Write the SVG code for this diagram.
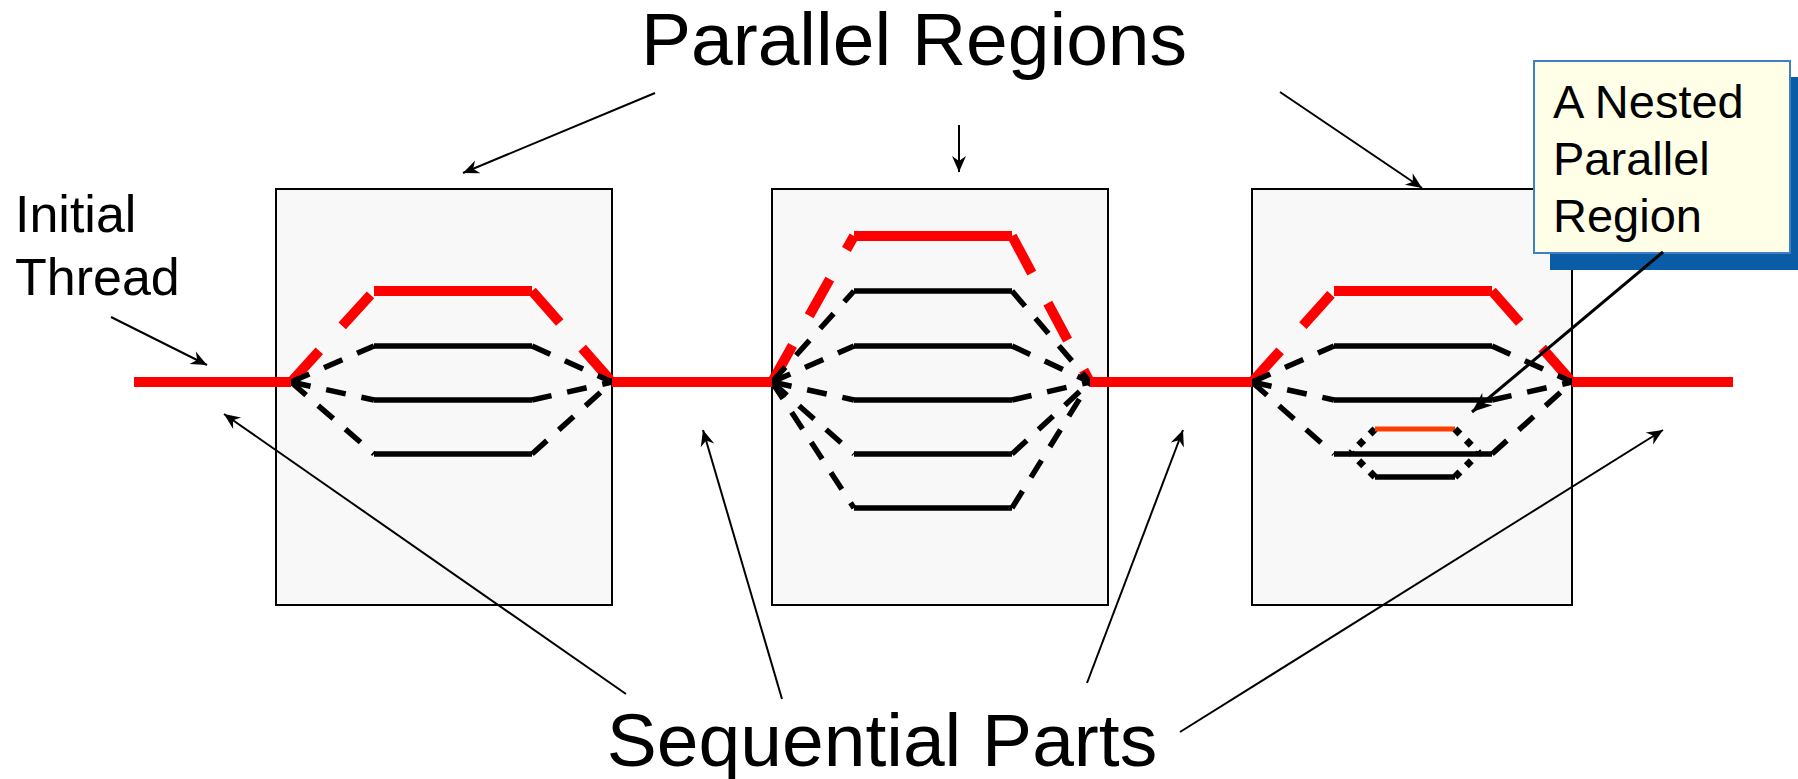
<svg xmlns="http://www.w3.org/2000/svg" width="1798" height="779" viewBox="0 0 1798 779">
<style>
.box{fill:#F8F8F8;stroke:#000;stroke-width:2}
.rs{stroke:#F00;stroke-width:10;fill:none}
.rd{stroke:#F00;stroke-width:10;stroke-dasharray:42 34;fill:none}
.bs{stroke:#000;stroke-width:5.5;fill:none}
.bd{stroke:#000;stroke-width:5.5;stroke-dasharray:20 16;fill:none}
.nd{stroke:#000;stroke-width:7;stroke-dasharray:7 9;fill:none}
.nr{stroke:#FF3C00;stroke-width:5;fill:none}
.ar{stroke:#000;stroke-width:2;fill:none;marker-end:url(#ah)}
.ar2{stroke:#000;stroke-width:3;fill:none;marker-end:url(#ah2)}
.t{font-family:"Liberation Sans",Arial,sans-serif;fill:#000}
</style>
<defs>
<marker id="ah" markerUnits="userSpaceOnUse" markerWidth="20" markerHeight="16" viewBox="-17 -8 20 16" refX="0" refY="0" orient="auto">
<path d="M0,0 L-16,-7 L-11,0 L-16,7 Z" fill="#000"/>
</marker>
<marker id="ah2" markerUnits="userSpaceOnUse" markerWidth="26" markerHeight="20" viewBox="-22 -10 26 20" refX="0" refY="0" orient="auto">
<path d="M0,0 L-20,-8 L-14,0 L-20,8 Z" fill="#000"/>
</marker>
</defs>
<rect width="1798" height="779" fill="#fff"/>

<g id="box1">
<rect class="box" x="276" y="189" width="336" height="416"/>
<path class="rd" d="M291,382 L374,291"/><path class="rs" d="M374,291 H532"/><path class="rd" d="M532,291 L612,382"/>
<path class="bd" d="M291,382 L374,346"/><path class="bs" d="M374,346 H532"/><path class="bd" d="M532,346 L612,382"/>
<path class="bd" d="M291,382 L374,400"/><path class="bs" d="M374,400 H532"/><path class="bd" d="M532,400 L612,382"/>
<path class="bd" d="M291,382 L374,454"/><path class="bs" d="M374,454 H532"/><path class="bd" d="M532,454 L612,382"/>
</g>

<g id="box2">
<rect class="box" x="772" y="189" width="336" height="416"/>
<path class="rd" d="M772,382 L854,236"/><path class="rs" d="M854,236 H1012"/><path class="rd" d="M1012,236 L1090,382"/>
<path class="bd" d="M772,382 L854,291"/><path class="bs" d="M854,291 H1012"/><path class="bd" d="M1012,291 L1090,382"/>
<path class="bd" d="M772,382 L854,346"/><path class="bs" d="M854,346 H1012"/><path class="bd" d="M1012,346 L1090,382"/>
<path class="bd" d="M772,382 L854,400"/><path class="bs" d="M854,400 H1012"/><path class="bd" d="M1012,400 L1090,382"/>
<path class="bd" d="M772,382 L854,454"/><path class="bs" d="M854,454 H1012"/><path class="bd" d="M1012,454 L1090,382"/>
<path class="bd" d="M772,382 L854,508"/><path class="bs" d="M854,508 H1012"/><path class="bd" d="M1012,508 L1090,382"/>
</g>

<g id="box3">
<rect class="box" x="1252" y="189" width="320" height="416"/>
<path class="rd" d="M1252,382 L1334,291"/><path class="rs" d="M1334,291 H1492"/><path class="rd" d="M1492,291 L1572,382"/>
<path class="bd" d="M1252,382 L1334,346"/><path class="bs" d="M1334,346 H1492"/><path class="bd" d="M1492,346 L1572,382"/>
<path class="bd" d="M1252,382 L1334,400"/><path class="bs" d="M1334,400 H1492"/><path class="bd" d="M1492,400 L1572,382"/>
<path class="bd" d="M1252,382 L1334,454"/><path class="bs" d="M1334,454 H1492"/><path class="bd" d="M1492,454 L1572,382"/>
<g id="nested">
<path class="nd" d="M1375,429 L1351,453"/><path class="nr" d="M1375,429 H1455"/><path class="nd" d="M1455,429 L1479,453"/>
<path class="nd" d="M1375,477 L1351,453"/><path class="bs" d="M1375,477 H1455"/><path class="nd" d="M1455,477 L1479,453"/>
</g>
</g>

<g id="main-thread">
<path class="rs" d="M134,382 H291 M612,382 H772 M1090,382 H1252 M1572,382 H1733"/>
</g>

<g id="callout">
<rect x="1550" y="77" width="256" height="193" fill="#0B5CA6"/>
<rect x="1534" y="61" width="256" height="192" fill="#FFFFE8" stroke="#3F80C4" stroke-width="2"/>
<text class="t" font-size="47"><tspan x="1553" y="118">A Nested</tspan><tspan x="1553" y="175">Parallel</tspan><tspan x="1553" y="232">Region</tspan></text>
</g>

<g id="labels">
<text class="t" x="914" y="65" font-size="75" text-anchor="middle">Parallel Regions</text>
<text class="t" x="882" y="766" font-size="75" text-anchor="middle">Sequential Parts</text>
<text class="t" font-size="52"><tspan x="15" y="232">Initial</tspan><tspan x="15" y="295">Thread</tspan></text>
</g>

<g id="connectors">
<path class="ar" d="M655,93 L463,173"/>
<path class="ar" d="M959,125 L959,172"/>
<path class="ar" d="M1280,92 L1422,188"/>
<path class="ar" d="M111,317 L207,365"/>
<path class="ar" d="M626,694 L224,414"/>
<path class="ar" d="M782,699 L703,430"/>
<path class="ar" d="M1087,683 L1183,430"/>
<path class="ar" d="M1180,732 L1663,430"/>
<path class="ar2" d="M1663,252 L1472,412"/>
</g>
</svg>
